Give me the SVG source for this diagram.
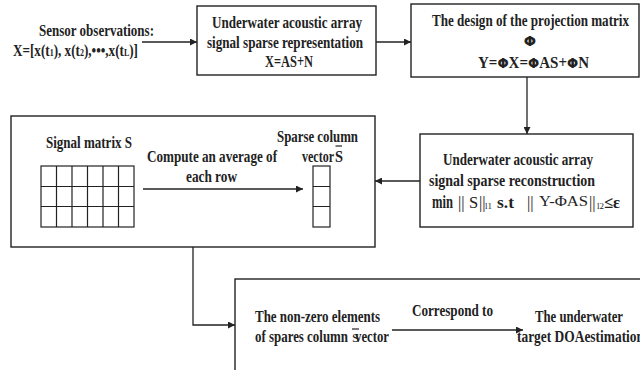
<svg xmlns="http://www.w3.org/2000/svg" width="640" height="370" viewBox="0 0 640 370">
<defs>
<style>
.box{fill:#fff;stroke:#222;stroke-width:1.4}
.cell{fill:none;stroke:#222;stroke-width:1.2}
.t{font-family:'Liberation Serif','Times New Roman',serif;font-weight:bold;font-size:16.5px;fill:#222}
.n{font-weight:normal}
.c{text-anchor:middle}
.line{fill:none;stroke:#222;stroke-width:1.3}
.ov{stroke:#222;stroke-width:1.2}
.phi{font-family:'DejaVu Sans',sans-serif;font-size:14.5px}
</style>
<marker id="ah" viewBox="0 0 10 10" refX="10" refY="5" markerWidth="7" markerHeight="7" markerUnits="userSpaceOnUse" orient="auto">
<path d="M0,0 L10,5 L0,10 z" fill="#222"/>
</marker>
</defs>
<rect width="640" height="370" fill="#fff"/>

<g id="sensor">
<text class="t" x="39" y="36" textLength="115" lengthAdjust="spacingAndGlyphs">Sensor observations:</text>
<text class="t" x="13" y="56" textLength="125" lengthAdjust="spacingAndGlyphs">X=[x(t<tspan font-size="10">1</tspan>), x(t<tspan font-size="10">2</tspan>),•••,x(t<tspan font-size="10">L</tspan>)]</text>
</g>

<g id="representation">
<rect class="box" x="197" y="6" width="179" height="69"/>
<text class="t" x="212" y="28" textLength="150" lengthAdjust="spacingAndGlyphs">Underwater acoustic array</text>
<text class="t" x="207" y="48" textLength="156" lengthAdjust="spacingAndGlyphs">signal sparse representation</text>
<text class="t" x="265" y="67" textLength="48" lengthAdjust="spacingAndGlyphs">X=AS+N</text>
</g>

<g id="projection">
<rect class="box" x="411" y="4" width="228" height="73"/>
<text class="t" x="432" y="26" textLength="197" lengthAdjust="spacingAndGlyphs">The design of the projection matrix</text>
<text class="t c phi" x="530" y="46">Φ</text>
<text class="t" x="478" y="68" textLength="111" lengthAdjust="spacingAndGlyphs">Y=<tspan class="phi">Φ</tspan>X=<tspan class="phi">Φ</tspan>AS+<tspan class="phi">Φ</tspan>N</text>
</g>

<g id="reconstruction">
<rect class="box" x="420" y="134" width="213" height="93"/>
<text class="t" x="443" y="165" textLength="150" lengthAdjust="spacingAndGlyphs">Underwater acoustic array</text>
<text class="t" x="429" y="186" textLength="166" lengthAdjust="spacingAndGlyphs">signal sparse reconstruction</text>
<text class="t" x="432" y="208" style="font-size:18px" textLength="21" lengthAdjust="spacingAndGlyphs">min</text>
<text class="t n" x="458" y="208">||</text>
<text class="t n" x="469" y="208">S</text>
<text class="t n" x="479" y="208">||</text>
<text class="t n" x="485" y="209" style="font-size:9px">l1</text>
<text class="t" x="497" y="208" textLength="17" lengthAdjust="spacingAndGlyphs">s.t</text>
<text class="t n" x="527" y="208">||</text>
<text class="t n" x="539" y="206" style="font-size:14px" textLength="49" lengthAdjust="spacingAndGlyphs">Y-ΦAS</text>
<text class="t n" x="589" y="208">||</text>
<text class="t n" x="597" y="209" style="font-size:9px">l2</text>
<text class="t" x="604" y="208" textLength="16" lengthAdjust="spacingAndGlyphs">≤ε</text>
</g>

<g id="signal-matrix">
<rect class="box" x="11" y="116" width="364" height="131"/>
<text class="t" x="46" y="148" textLength="86" lengthAdjust="spacingAndGlyphs">Signal matrix S</text>
<rect class="cell" x="41" y="166" width="93" height="61"/>
<path class="cell" d="M56.5,166V227M72,166V227M87.5,166V227M103,166V227M118.5,166V227M41,186.5H134M41,206.5H134"/>
<text class="t" x="147" y="162" textLength="130" lengthAdjust="spacingAndGlyphs">Compute an average of</text>
<text class="t" x="186" y="182" textLength="51" lengthAdjust="spacingAndGlyphs">each row</text>
<text class="t" x="277" y="142" textLength="81" lengthAdjust="spacingAndGlyphs">Sparse column</text>
<text class="t" x="302" y="162" textLength="32" lengthAdjust="spacingAndGlyphs">vector</text>
<text class="t" x="335" y="162" textLength="8" lengthAdjust="spacingAndGlyphs">S</text>
<line class="ov" x1="335.5" y1="146" x2="342" y2="146"/>
<rect class="cell" x="313" y="166" width="17" height="61"/>
<path class="cell" d="M313,186.5H330M313,206.5H330"/>
<line class="line" x1="143" y1="189" x2="303" y2="189" marker-end="url(#ah)"/>
</g>

<g id="doa">
<rect class="box" x="235" y="279" width="420" height="120"/>
<text class="t" x="255" y="322" textLength="125" lengthAdjust="spacingAndGlyphs">The non-zero elements</text>
<text class="t" x="255" y="342" textLength="93" lengthAdjust="spacingAndGlyphs">of  spares column</text>
<text class="t n" x="352" y="342" style="font-size:13px">S</text>
<line class="ov" x1="352" y1="329" x2="359" y2="329"/>
<text class="t" x="355" y="342" textLength="34" lengthAdjust="spacingAndGlyphs">vector</text>
<text class="t" x="412" y="316" textLength="81" lengthAdjust="spacingAndGlyphs">Correspond to</text>
<text class="t" x="535" y="322" textLength="88" lengthAdjust="spacingAndGlyphs">The underwater</text>
<text class="t" x="517" y="342" textLength="127" lengthAdjust="spacingAndGlyphs">target DOAestimation</text>
<line class="line" x1="392" y1="330" x2="523" y2="330" marker-end="url(#ah)"/>
</g>

<g id="connectors">
<line class="line" x1="142" y1="42" x2="197" y2="42" marker-end="url(#ah)"/>
<line class="line" x1="376" y1="42" x2="411" y2="42" marker-end="url(#ah)"/>
<line class="line" x1="527" y1="77" x2="527" y2="134" marker-end="url(#ah)"/>
<line class="line" x1="420" y1="181" x2="375" y2="181" marker-end="url(#ah)"/>
<polyline class="line" points="193,247 193,325 235,325" marker-end="url(#ah)"/>
</g>
</svg>
